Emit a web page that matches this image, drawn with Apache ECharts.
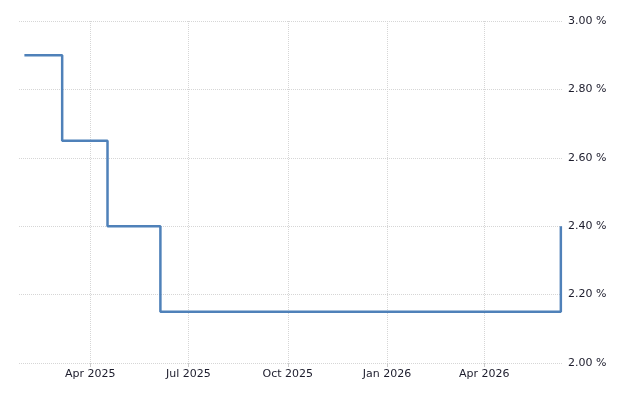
<!DOCTYPE html>
<html>
<head>
<meta charset="utf-8">
<script src="https://cdn.jsdelivr.net/npm/echarts@6/dist/echarts.min.js"></script>
<style>
  html, body { margin: 0; padding: 0; background: #fff; }
  #main { width: 640px; height: 400px; }
</style>
</head>
<body>
<div id="main"></div>
<script>
  // decision dates and the rate set on each
  const dates = ['2025-01-30', '2025-03-06', '2025-04-17', '2025-06-05', '2025-07-24',
    '2025-09-11', '2025-10-30', '2025-12-18', '2026-02-05', '2026-03-19',
    '2026-04-30', '2026-06-11'];
  const rates = [2.90, 2.65, 2.40, 2.15, 2.15, 2.15, 2.15, 2.15, 2.15, 2.15, 2.15, 2.40];
  const months = ['Jan', 'Feb', 'Mar', 'Apr', 'May', 'Jun', 'Jul', 'Aug', 'Sep', 'Oct', 'Nov', 'Dec'];

  const myChart = echarts.init(document.getElementById('main'));

  const seriesData = dates.map(function (d, i) {
    return [d, rates[i]];
  });

  const textFont = {
    fontFamily: 'DejaVu Sans',
    fontSize: 11,
    color: '#1c1c2c'
  };

  const gridDots = { color: '#d6d6d6', type: [1, 1] };

  const options = {
    animation: false,
    grid: {
      left: 19,
      right: 77,
      top: 21,
      bottom: 37
    },
    xAxis: {
      type: 'time',
      min: '2025-01-25',
      max: '2026-06-13',
      splitNumber: 5,
      axisLine: { show: false },
      axisTick: {
        show: true,
        length: 4,
        lineStyle: { color: '#cccccc' }
      },
      splitLine: {
        show: true,
        showMinLine: false,
        showMaxLine: false,
        lineStyle: gridDots
      },
      axisLabel: Object.assign({
        margin: 6,
        showMinLabel: false,
        showMaxLabel: false,
        formatter: function (value) {
          const d = new Date(value);
          return months[d.getMonth()] + ' ' + d.getFullYear();
        }
      }, textFont)
    },
    yAxis: {
      type: 'value',
      position: 'right',
      min: 2,
      max: 3,
      interval: 0.2,
      axisLine: { show: false },
      axisTick: { show: false },
      splitLine: {
        show: true,
        lineStyle: gridDots
      },
      axisLabel: Object.assign({
        margin: 5,
        formatter: function (v) {
          return v.toFixed(2) + ' %';
        }
      }, textFont)
    },
    series: [{
      name: 'Rate',
      type: 'line',
      step: 'end',
      symbol: 'none',
      lineStyle: { color: '#4f81b9', width: 2.5 },
      data: seriesData
    }]
  };

  myChart.setOption(options, true);
</script>
</body>
</html>
